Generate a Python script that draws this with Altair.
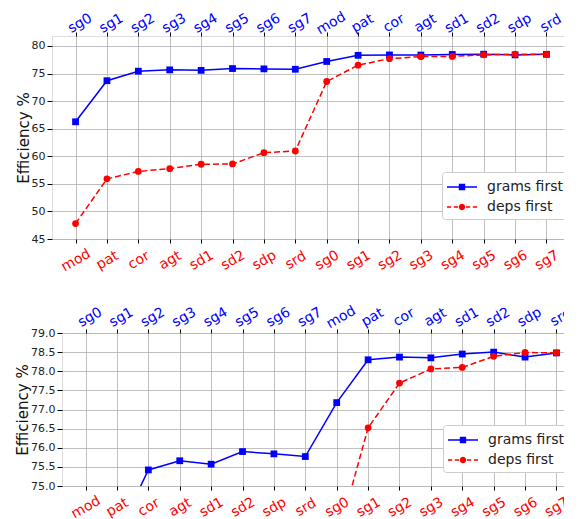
import altair as alt
import pandas as pd

top_labels = ["sg0", "sg1", "sg2", "sg3", "sg4", "sg5", "sg6", "sg7",
              "mod", "pat", "cor", "agt", "sd1", "sd2", "sdp", "srd"]
bottom_labels = ["mod", "pat", "cor", "agt", "sd1", "sd2", "sdp", "srd",
                 "sg0", "sg1", "sg2", "sg3", "sg4", "sg5", "sg6", "sg7"]
grams_first = [66.25, 73.7, 75.42, 75.66, 75.57, 75.9, 75.84, 75.77,
               77.18, 78.30, 78.37, 78.35, 78.45, 78.50, 78.37, 78.48]
deps_first = [47.8, 55.9, 57.25, 57.75, 58.55, 58.6, 60.65, 60.95,
              73.55, 76.52, 77.69, 78.06, 78.10, 78.39, 78.49, 78.48]
series_names = ["grams first", "deps first"]
series_colors = ["blue", "red"]
top_y_ticks = [45, 50, 55, 60, 65, 70, 75, 80]
bottom_y_ticks = [75.0, 75.5, 76.0, 76.5, 77.0, 77.5, 78.0, 78.5, 79.0]

FONT = "DejaVu Sans"

df_g = pd.DataFrame({"label": top_labels, "value": grams_first, "series": series_names[0]})
df_d = pd.DataFrame({"label": bottom_labels, "value": deps_first, "series": series_names[1]})

# legend glyphs (line + marker), drawn with fills only
BLUE_SYM = ("M-1.5,-0.075L1.5,-0.075L1.5,0.075L-1.5,0.075Z"
            "M-0.32,-0.32L0.32,-0.32L0.32,0.32L-0.32,0.32Z")
RED_SYM = ("M-1.5,-0.075L-1.08,-0.075L-1.08,0.075L-1.5,0.075Z"
           "M-0.82,-0.075L-0.4,-0.075L-0.4,0.075L-0.82,0.075Z"
           "M0.4,-0.075L0.82,-0.075L0.82,0.075L0.4,0.075Z"
           "M1.08,-0.075L1.5,-0.075L1.5,0.075L1.08,0.075Z"
           "M-0.32,0A0.32,0.32 0 1,1 0.32,0A0.32,0.32 0 1,1 -0.32,0Z")
legend_symbols = [BLUE_SYM, RED_SYM]


def panel(y_domain, y_ticks, y_format, height, leg_x, leg_y, top_pad):
    legend = alt.Legend(
        orient="none", legendX=leg_x, legendY=leg_y, title=None,
        fillColor="white", strokeColor="#cccccc", cornerRadius=3, padding=5,
        labelFont=FONT, labelFontSize=14, labelColor="#222222", labelOffset=15,
        symbolSize=400, symbolStrokeWidth=0, symbolOpacity=1, symbolOffset=5,
        rowPadding=3,
    )
    cscale = alt.Scale(domain=series_names, range=series_colors)
    color = alt.Color("series:N", scale=cscale, legend=legend)
    common = dict(labelAngle=-30, labelAlign="center", labelBaseline="middle",
                  labelFontSize=14, labelFont=FONT, tickSize=4, tickColor="black",
                  domain=False, title=None, labelOverlap=False)
    top_axis = alt.Axis(orient="top", labelColor="blue", labelPadding=top_pad, labelOffset=4,
                        grid=True, gridColor="#b0b0b0", gridWidth=0.8, **common)
    bottom_axis = alt.Axis(orient="bottom", labelColor="red", labelPadding=17, grid=False,
                           **common)
    y = alt.Y("value:Q",
              scale=alt.Scale(domain=y_domain, nice=False, zero=False),
              axis=alt.Axis(title="Efficiency %", values=y_ticks, format=y_format,
                            grid=True, gridColor="#b0b0b0", gridWidth=0.8,
                            domain=False, tickSize=5, tickColor="black", labelPadding=2,
                            labelFont=FONT, labelFontSize=11, labelColor="#222222",
                            titleFont=FONT, titleFontSize=15, titleFontWeight="normal",
                            titleColor="#111111", titlePadding=0))
    xg = alt.X("label:N", sort=top_labels, scale=alt.Scale(type="point", padding=0.75),
               axis=top_axis)
    xd = alt.X("label:N", sort=bottom_labels, scale=alt.Scale(type="point", padding=0.75),
               axis=bottom_axis)
    g_key = alt.Chart(df_g).mark_point(filled=True, size=0, opacity=1, clip=True).encode(
        x=xg, y=y, color=color,
        shape=alt.Shape("series:N", scale=alt.Scale(domain=series_names, range=legend_symbols),
                        legend=legend))
    g_line = alt.Chart(df_g).mark_line(strokeWidth=1.5, clip=True).encode(x=xg, y=y, color=color)
    g_pts = alt.Chart(df_g).mark_point(shape="square", size=46, filled=True, opacity=1,
                                       clip=True).encode(x=xg, y=y, color=color)
    d_line = alt.Chart(df_d).mark_line(strokeWidth=1.5, strokeDash=[6, 3], clip=True).encode(
        x=xd, y=y, color=color)
    d_pts = alt.Chart(df_d).mark_point(shape="circle", size=46, filled=True, opacity=1,
                                       clip=True).encode(x=xd, y=y, color=color)
    g = alt.layer(g_key, g_line, g_pts)
    d = alt.layer(d_line, d_pts)
    return alt.layer(g, d).resolve_scale(x="independent").properties(width=518, height=height)


top = panel([45, 81.8], top_y_ticks, "d", 203, 390, 136, 9)
bottom = panel([75, 79], bottom_y_ticks, ".1f", 153, 381, 92, 12)

spacer = alt.Chart(pd.DataFrame({"v": [0]})).mark_text(text="", opacity=0).encode(
    x=alt.value(0), y=alt.value(0)).properties(
    width=1, height=1, view=alt.ViewBackground(stroke="transparent"))

bottom_row = alt.hconcat(spacer, bottom, spacing=-39).resolve_scale(
    color="independent", shape="independent").resolve_legend(
    color="independent", shape="independent")

chart = alt.vconcat(top, bottom_row, spacing=27).resolve_scale(
    color="independent", shape="independent"
).resolve_legend(
    color="independent", shape="independent"
).properties(
    padding={"left": 7, "top": 0, "right": -17, "bottom": 0}
).configure_view(stroke="black", strokeWidth=1).configure(font=FONT)

chart.save("out.html", embed_options={"renderer": "svg", "actions": False})
